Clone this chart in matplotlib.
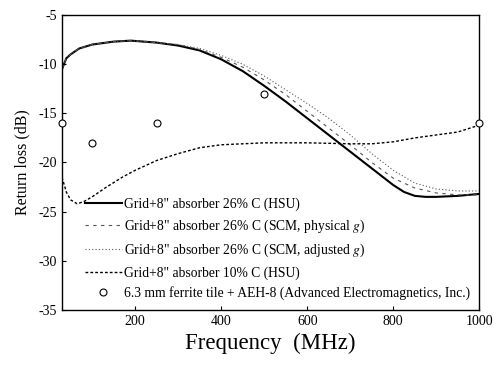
import matplotlib
matplotlib.use("Agg")
import matplotlib.pyplot as plt

plt.rcParams['font.family'] = ['Liberation Serif', 'DejaVu Serif']
plt.rcParams['mathtext.fontset'] = 'stix'
plt.rcParams['axes.unicode_minus'] = False

# HSU, 26% C
freq_hsu26 = [30, 40, 50, 70, 100, 150, 190, 250, 300, 350, 400, 450, 500, 550,
              600, 650, 700, 750, 800, 825, 850, 875, 900, 950, 1000]
rl_hsu26 = [-10.5, -9.4, -9.0, -8.4, -8.0, -7.7, -7.6, -7.8, -8.1, -8.6, -9.5, -10.7,
            -12.2, -13.8, -15.5, -17.2, -18.9, -20.6, -22.3, -23.0, -23.4, -23.5,
            -23.5, -23.4, -23.2]

# SCM, physical g
freq_phys = [30, 40, 50, 70, 100, 150, 190, 250, 300, 350, 400, 450, 500, 550,
             600, 650, 700, 750, 800, 850, 900, 950, 1000]
rl_phys = [-10.5, -9.4, -9.0, -8.4, -8.0, -7.7, -7.6, -7.8, -8.0, -8.5, -9.3, -10.3,
           -11.6, -13.1, -14.8, -16.5, -18.2, -20.0, -21.6, -22.6, -23.1, -23.3, -23.3]

# SCM, adjusted g
freq_adj = [30, 40, 50, 70, 100, 150, 190, 250, 300, 350, 400, 450, 500, 550,
            600, 650, 700, 750, 800, 850, 900, 950, 1000]
rl_adj = [-10.5, -9.4, -9.0, -8.4, -8.0, -7.7, -7.6, -7.8, -8.0, -8.4, -9.1, -10.0,
          -11.2, -12.6, -14.0, -15.5, -17.2, -19.1, -20.8, -22.1, -22.7, -22.9, -22.9]

# HSU, 10% C
freq_hsu10 = [30, 40, 50, 65, 80, 100, 130, 170, 200, 250, 300, 350, 400, 450,
              500, 600, 700, 750, 800, 850, 900, 950, 1000]
rl_hsu10 = [-21.5, -23.0, -23.8, -24.2, -24.0, -23.5, -22.6, -21.5, -20.8, -19.8,
            -19.1, -18.5, -18.2, -18.1, -18.0, -18.0, -18.1, -18.1, -17.9, -17.5,
            -17.2, -16.9, -16.2]

# ferrite tile measurement
freq_tile = [30, 100, 250, 500, 1000]
rl_tile = [-16, -18, -16, -13, -16]

labels = [
    'Grid+8" absorber 26% C (HSU)',
    'Grid+8" absorber 26% C (SCM, physical $g$)',
    'Grid+8" absorber 26% C (SCM, adjusted $g$)',
    'Grid+8" absorber 10% C (HSU)',
    '6.3 mm ferrite tile + AEH-8 (Advanced Electromagnetics, Inc.)',
]

fig = plt.figure(figsize=(4.98, 3.68), dpi=100)
ax = fig.add_axes([0.1245, 0.158, 0.838, 0.801])

ax.plot(freq_hsu26, rl_hsu26, color='black', lw=1.5, label=labels[0])
ax.plot(freq_phys, rl_phys, color='#555555', lw=0.8, linestyle=(0, (3, 4)), label=labels[1])
ax.plot(freq_adj, rl_adj, color='#555555', lw=0.8, linestyle=(0, (1, 2)), label=labels[2])
ax.plot(freq_hsu10, rl_hsu10, color='black', lw=1.0, linestyle=(0, (2, 1.5)), label=labels[3])
ax.plot(freq_tile, rl_tile, linestyle='none', marker='o', ms=5, mfc='white',
        mec='black', mew=0.8, label=labels[4], clip_on=False, zorder=5)

ax.set_xlim(30, 1000)
ax.set_ylim(-35, -5)
ax.set_xticks([200, 400, 600, 800, 1000])
ax.set_yticks([-35, -30, -25, -20, -15, -10, -5])
ax.tick_params(direction='in', length=3, labelsize=10)
for s in ax.spines.values():
    s.set_linewidth(1.0)

ax.set_xlabel('Frequency  (MHz)', fontsize=16.5)
ax.set_ylabel('Return loss (dB)', fontsize=11.5, labelpad=6)

leg = ax.legend(loc='lower right', bbox_to_anchor=(1.0, 0.0), fontsize=9.8,
                frameon=False, handlelength=2.7, borderaxespad=0.3,
                labelspacing=0.5, handletextpad=0.15, borderpad=0.4)

fig.savefig('out.png', dpi=100)
